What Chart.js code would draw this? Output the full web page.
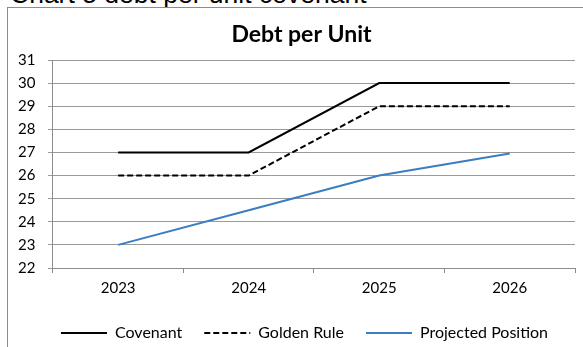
<!DOCTYPE html>
<html>
<head>
<meta charset="utf-8">
<script src="https://cdn.jsdelivr.net/npm/chart.js@4/dist/chart.umd.min.js"></script>
<style>
  html, body { margin: 0; padding: 0; background: #fff; overflow: hidden; }
  body { width: 583px; height: 347px; position: relative; }
  #caption {
    position: absolute; left: 10px; top: -21px;
    font-family: "Liberation Sans", Arial, sans-serif; font-size: 26.5px;
    line-height: 30px; color: #000; white-space: nowrap;
  }
  #frame {
    position: absolute; left: 7px; top: 7px; width: 576px; height: 344px;
    border-left: 1px solid #8c8c8c; border-top: 1px solid #8c8c8c;
    box-sizing: border-box; background: #fff;
  }
  #wrap { position: absolute; left: 0px; top: 0px; width: 575px; height: 343px; }
</style>
</head>
<body>
<div id="caption">Chart 5 debt per unit covenant</div>
<div id="frame"><div id="wrap"><canvas id="chart"></canvas></div></div>
<script>
const years = ['2023', '2024', '2025', '2026'];
const covenant = [27, 27, 30, 30];
const goldenRule = [26, 26, 29, 29];
const projectedPosition = [23, 24.5, 26, 26.95];
const yTicks = [22, 23, 24, 25, 26, 27, 28, 29, 30, 31];

const font = 'Lato, "Open Sans", sans-serif';

// centre the title and legend row over the plot rather than the whole canvas
const centreOverPlot = {
  id: 'centreOverPlot',
  afterLayout(chart) {
    if (chart.legend) { chart.legend.left += 8; chart.legend.right += 8; }
    if (chart.titleBlock) { chart.titleBlock.left += 5; chart.titleBlock.right += 5; }
  }
};

new Chart(document.getElementById('chart'), {
  type: 'line',
  plugins: [centreOverPlot],
  data: {
    labels: years,
    datasets: [
      { label: 'Covenant', data: covenant, borderColor: '#000000', backgroundColor: '#000000',
        borderWidth: 2, pointRadius: 0, tension: 0 },
      { label: 'Golden Rule', data: goldenRule, borderColor: '#000000', backgroundColor: '#000000',
        borderWidth: 2, borderDash: [6, 3], pointRadius: 0, tension: 0 },
      { label: 'Projected Position', data: projectedPosition, borderColor: '#3b7dc1', backgroundColor: '#3b7dc1',
        borderWidth: 2, pointRadius: 0, tension: 0 }
    ]
  },
  options: {
    responsive: true,
    maintainAspectRatio: false,
    animation: false,
    layout: { padding: { left: 10, right: 8, top: 6, bottom: 0 } },
    plugins: {
      title: {
        display: true, text: 'Debt per Unit', color: '#000',
        font: { family: font, size: 23, weight: 'bold' },
        padding: { top: 7, bottom: 11.4 }
      },
      legend: {
        position: 'bottom',
        labels: {
          usePointStyle: true, pointStyle: 'line', pointStyleWidth: 46,
          boxHeight: 2, color: '#000', padding: 22,
          font: { family: font, size: 16 },
          // keep each series' dash pattern and width in its legend sample
          generateLabels: (chart) => Chart.defaults.plugins.legend.labels.generateLabels(chart).map(item => {
            const ds = chart.data.datasets[item.datasetIndex];
            item.lineDash = ds.borderDash || [];
            item.lineWidth = ds.borderWidth;
            item.strokeStyle = ds.borderColor;
            return item;
          })
        }
      },
      tooltip: { enabled: false }
    },
    scales: {
      x: {
        offset: true,
        afterFit: (axis) => { axis.paddingLeft = 0; axis.paddingRight = 0; },
        grid: { offset: true, drawOnChartArea: false, drawTicks: true, tickLength: 5, color: '#8c8c8c' },
        border: { color: '#8c8c8c' },
        ticks: { color: '#000', font: { family: font, size: 15 }, padding: 6 }
      },
      y: {
        min: 22, max: 31,
        afterBuildTicks: (axis) => { axis.ticks = yTicks.map(v => ({ value: v })); },
        // the label padding is only needed between labels and tick marks
        afterFit: (axis) => { axis.width -= axis.options.ticks.padding; },
        grid: { color: '#9a9a9a', tickLength: 5 },
        border: { color: '#8c8c8c' },
        ticks: { color: '#000', font: { family: font, size: 15 }, padding: 12.5 }
      }
    }
  }
});
</script>
</body>
</html>
